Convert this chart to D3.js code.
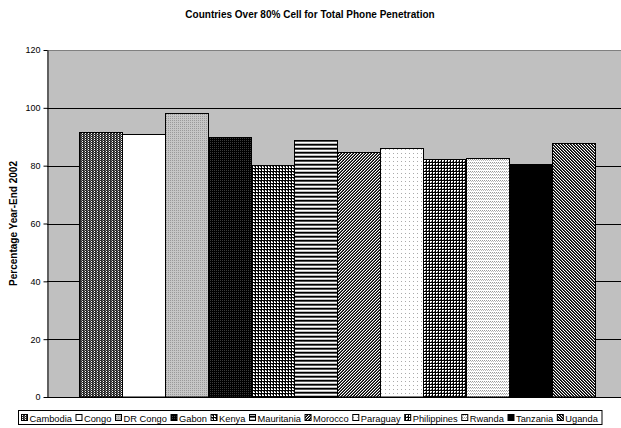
<!DOCTYPE html>
<html><head><meta charset="utf-8">
<script src="https://cdn.jsdelivr.net/npm/d3@7"></script>
<style>body{margin:0;background:#fff}svg{display:block;font-family:"Liberation Sans",Arial,sans-serif}</style>
</head><body><svg id="c" width="621" height="428"></svg>
<script>
const countries = ["Cambodia","Congo","DR Congo","Gabon","Kenya","Mauritania","Morocco","Paraguay","Philippines","Rwanda","Tanzania","Uganda"];
const values = [91.5, 91.0, 98.3, 89.8, 80.4, 88.8, 84.8, 86.0, 82.2, 82.8, 80.7, 87.8];
const yTicks = [0, 20, 40, 60, 80, 100, 120];
const title = "Countries Over 80% Cell for Total Phone Penetration";
const yLabel = "Percentage Year-End 2002";

const svg = d3.select("#c");
const plot = {l: 47, r: 627, t: 50, b: 397};
const defs = svg.append("defs");

function pat(id, w, h, bg, cells){
  const p = defs.append("pattern").attr("id", id).attr("patternUnits","userSpaceOnUse")
    .attr("width", w).attr("height", h);
  p.append("rect").attr("width", w).attr("height", h).attr("fill", bg);
  cells.forEach(c => p.append("rect").attr("x",c[0]).attr("y",c[1]).attr("width",c[2]).attr("height",c[3]).attr("fill",c[4]).attr("shape-rendering","crispEdges"));
}
pat("p0", 3, 2, "#2a2a2a", [[1,1,1,1,"#fff"],[0,0,1,1,"#777"]]);
pat("p1", 2, 2, "#fff", []);
pat("p2", 2, 2, "#c6c6c6", [[0,0,1,1,"#9a9a9a"]]);
pat("p3", 2, 2, "#000", [[0,0,1,1,"#3a3a3a"]]);
pat("p4", 3, 3, "#fff", [[0,0,1,3,"#000"],[0,0,3,1,"#000"],[2,1,1,1,"#555"]]);
pat("p5", 1, 4, "#fff", [[0,0,1,1,"#000"],[0,1,1,1,"#555"],[0,3,1,1,"#bbb"]]);
pat("p6", 3, 3, "#fff", [[2,0,1,1,"#000"],[1,1,1,1,"#000"],[0,2,1,1,"#000"],[1,0,1,1,"#555"],[0,1,1,1,"#555"],[2,2,1,1,"#555"]]);
pat("p7", 4, 4, "#fff", [[1,1,1,1,"#aaa"]]);
pat("p8", 3, 3, "#fff", [[0,0,3,1,"#000"],[0,0,1,3,"#000"],[2,2,1,1,"#666"]]);
pat("p9", 2, 3, "#fff", [[0,0,1,1,"#999"],[1,1,1,1,"#bbb"]]);
pat("p10", 2, 2, "#000", []);
pat("p11", 3, 3, "#fff", [[0,0,1,1,"#000"],[1,1,1,1,"#000"],[2,2,1,1,"#000"],[1,0,1,1,"#444"],[2,1,1,1,"#444"],[0,2,1,1,"#444"]]);

const x = d3.scaleBand().domain(countries).range([79, 595]).padding(0);
const y = d3.scaleLinear().domain([0, 120]).range([plot.b, plot.t]);

svg.append("rect").attr("x", plot.l).attr("y", plot.t).attr("width", plot.r - plot.l).attr("height", plot.b - plot.t).attr("fill", "#c0c0c0");
svg.append("line").attr("x1", plot.l).attr("x2", plot.r).attr("y1", plot.t + 0.5).attr("y2", plot.t + 0.5).attr("stroke", "#808080").attr("stroke-width", 1);

svg.append("g").selectAll("line").data(yTicks.filter(v => v > 0 && v < 120)).join("line")
  .attr("x1", plot.l).attr("x2", plot.r)
  .attr("y1", d => Math.round(y(d)) + 0.5).attr("y2", d => Math.round(y(d)) + 0.5)
  .attr("stroke", "#000").attr("stroke-width", 1);

svg.append("g").selectAll("rect").data(countries).join("rect")
  .attr("x", d => x(d) + 0.5).attr("width", x.bandwidth())
  .attr("y", (d, i) => Math.round(y(values[i])) + 0.5)
  .attr("height", (d, i) => plot.b - Math.round(y(values[i])) - 0.5)
  .attr("fill", (d, i) => `url(#p${i})`)
  .attr("stroke", "#000").attr("stroke-width", 1);

const ya = svg.append("g").attr("transform", `translate(${plot.l + 0.5},0)`)
  .call(d3.axisLeft(y).tickValues(yTicks).tickSize(4).tickSizeOuter(0).tickPadding(3));
ya.select(".domain").attr("stroke", "#000");
ya.selectAll(".tick line").attr("stroke", "#000");
ya.selectAll(".tick text").attr("font-size", 9).attr("fill", "#000").attr("font-family", "Liberation Sans, Arial, sans-serif");
svg.append("line").attr("x1", plot.l).attr("x2", plot.r).attr("y1", plot.b + 0.5).attr("y2", plot.b + 0.5).attr("stroke", "#000");

svg.append("text").attr("x", 310).attr("y", 18).attr("text-anchor", "middle")
  .attr("font-size", 10).attr("font-weight", "bold").text(title);
svg.append("text").attr("transform", `translate(17,${(plot.t + plot.b) / 2}) rotate(-90)`)
  .attr("text-anchor", "middle").attr("font-size", 10).attr("font-weight", "bold").text(yLabel);

const lg = svg.append("g");
const box = lg.append("rect").attr("fill", "#fff").attr("stroke", "#000").attr("stroke-width", 1);
let cx = 21;
const ly = 418;
lg.selectAll("g.it").data(countries).join("g").attr("class", "it").each(function(d, i){
  const g = d3.select(this);
  g.append("rect").attr("x", cx + 0.5).attr("y", ly - 3.5).attr("width", 6).attr("height", 6)
    .attr("fill", `url(#p${i})`).attr("stroke", "#000");
  const t = g.append("text").attr("x", cx + 8.5).attr("y", ly + 3.5).attr("font-size", 9.3).text(d);
  cx += 8.5 + t.node().getComputedTextLength() + 3.6;
});
box.attr("x", 18.5).attr("y", 410.5).attr("width", cx - 18).attr("height", 14);
</script></body></html>
